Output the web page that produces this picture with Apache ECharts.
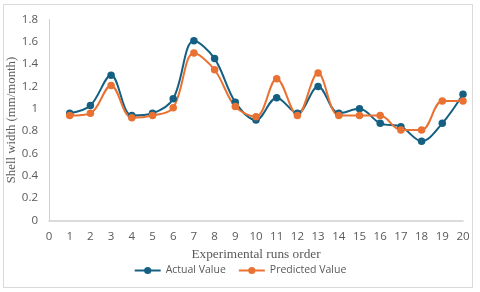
<!DOCTYPE html>
<html><head><meta charset="utf-8">
<script src="https://cdn.jsdelivr.net/npm/echarts@6/dist/echarts.min.js"></script>
<style>html,body{margin:0;padding:0;background:#fff}#c{width:480px;height:292px}</style>
</head><body><div id="c"></div>
<script>
var runs = [1,2,3,4,5,6,7,8,9,10,11,12,13,14,15,16,17,18,19,20];
var actualValue = [0.96,1.03,1.30,0.94,0.96,1.09,1.61,1.45,1.06,0.90,1.10,0.96,1.20,0.96,1.00,0.87,0.84,0.71,0.87,1.13];
var predictedValue = [0.94,0.96,1.21,0.92,0.94,1.01,1.50,1.35,1.02,0.93,1.27,0.94,1.32,0.94,0.94,0.94,0.81,0.81,1.07,1.07];
var seriesNames = ['Actual Value','Predicted Value'];
var yTicks = [0,0.2,0.4,0.6,0.8,1,1.2,1.4,1.6,1.8];

var chart = echarts.init(document.getElementById('c'), null, {renderer:'canvas'});
function pairs(v){return runs.map(function(r,i){return [r,v[i]];});}
var tickFont = 'Open Sans';
chart.setOption({
  animation:false,
  graphic:[{type:'rect',shape:{x:3.5,y:4.5,width:469,height:283},style:{fill:'none',stroke:'#d9d9d9',lineWidth:1},silent:true}],
  grid:{left:49,right:17,top:19.5,bottom:71.5,containLabel:false,outerBoundsMode:'none'},
  xAxis:{type:'value',min:0,max:20,interval:1,
    axisLine:{show:true,lineStyle:{color:'#d0d0d0',width:1.5}},
    axisTick:{show:false},splitLine:{show:false},
    axisLabel:{color:'#595959',fontFamily:tickFont,fontSize:11.5,margin:10},
    name:'Experimental runs order',nameLocation:'middle',nameGap:28,nameMoveOverlap:false,
    nameTextStyle:{fontFamily:'Liberation Serif',fontSize:13.3,color:'#595959'}},
  yAxis:{type:'value',min:0,max:1.8,interval:0.2,
    axisLine:{show:true,lineStyle:{color:'#d0d0d0',width:1}},
    axisTick:{show:false},splitLine:{show:false},
    axisLabel:{color:'#595959',fontFamily:tickFont,fontSize:11.5,margin:11,
      formatter:function(v){return String(Math.round(v*10)/10);}},
    name:'Shell width (mm/month)',nameLocation:'middle',nameGap:31,nameRotate:90,nameMoveOverlap:false,
    nameTextStyle:{fontFamily:'Liberation Serif',fontSize:12.8,color:'#595959'}},
  legend:{bottom:11,left:'center',itemWidth:26,itemHeight:9,itemGap:12,
    textStyle:{fontFamily:tickFont,fontSize:10.5,color:'#595959'},
    data:seriesNames},
  series:[
    {name:seriesNames[0],type:'line',data:pairs(actualValue),smooth:0.35,
     symbol:'circle',symbolSize:7.5,color:'#156082',lineStyle:{width:2,color:'#156082'},itemStyle:{color:'#156082'}},
    {name:seriesNames[1],type:'line',data:pairs(predictedValue),smooth:0.35,
     symbol:'circle',symbolSize:7.5,color:'#E97132',lineStyle:{width:2,color:'#E97132'},itemStyle:{color:'#E97132'}}
  ]
});
</script></body></html>
